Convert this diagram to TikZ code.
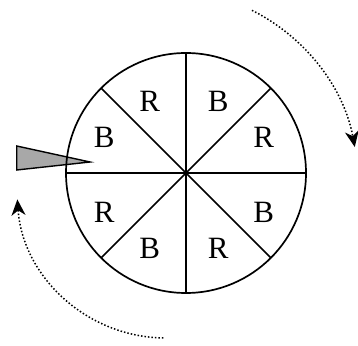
\documentclass[tikz,border=0pt]{standalone}
\usepackage{fontspec}
\setmainfont{Liberation Serif}
\usepackage{tikz}
\usetikzlibrary{arrows.meta}
\definecolor{mydark}{RGB}{0,0,0}
\definecolor{mygray}{RGB}{168,168,168}
\tikzset{
  wheel/.style={draw=mydark, line width=1.7pt},
  spoke/.style={draw=mydark, line width=1.7pt},
  pointer/.style={draw=mydark, fill=mygray, line width=1.4pt, line join=miter},
  lbl/.style={font=\fontsize{31}{34}\selectfont, inner sep=0pt},
  spinarrow/.style={-{Stealth[length=16pt,width=14pt,inset=5pt]}, dotted, line width=1.5pt, color=mydark}
}

\begin{document}
\begin{tikzpicture}[x=1pt, y=1pt]
  \useasboundingbox (0,0) rectangle (358,345);

  % Centre of the wheel
  \coordinate (c) at (186,172);
  \coordinate (lc) at (184,170);

  % Pointer
  \coordinate (p_top) at (16.7,199);
  \coordinate (p_bot) at (16.7,175);
  \coordinate (p_tip) at (90,183);
  \draw[pointer] (p_top) -- (p_tip) -- (p_bot) -- cycle;

  % Wheel and spokes
  \draw[wheel] (c) circle (120);
  \foreach \a in {0,45,90,135} {
    \draw[spoke] ([shift={(\a:120)}]c) -- ([shift={(\a+180:120)}]c);
  }

  % Sector labels
  \foreach \a/\r/\t in {25/88/R, 65/81/B, 115/81/R, 155/88/B, 205/88/R, 245/81/B, 295/81/R, 335/88/B} {
    \node[lbl] (lbl_\a) at ([shift={(\a:\r)}]lc) {\t};
  }

  % Spin arrows
  \coordinate (arc_top) at (166,163);
  \coordinate (arc_bot) at (166,156);
  \draw[spinarrow] ([shift={(63.4:192)}]arc_top) arc[start angle=63.4, end angle=10.5, radius=192];
  \draw[spinarrow] ([shift={(269:149)}]arc_bot) arc[start angle=269, end angle=184, radius=149];
\end{tikzpicture}
\end{document}
